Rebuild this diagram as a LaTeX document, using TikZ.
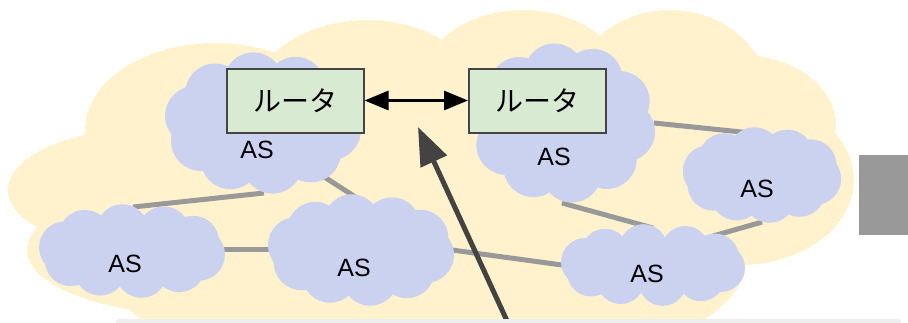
\documentclass[tikz,border=0pt]{standalone}
\usepackage{fontspec}
\setmainfont{Liberation Sans}
\newfontfamily\jpfont{Noto Sans CJK JP}
\usetikzlibrary{arrows.meta}

\definecolor{netyellow}{HTML}{FFF2CC}
\definecolor{asblue}{HTML}{CBD2F0}
\definecolor{routergreen}{HTML}{D9EAD3}
\definecolor{linkgray}{HTML}{999999}
\definecolor{darkgray}{HTML}{434343}
\definecolor{boxedge}{HTML}{444444}
\definecolor{stripgray}{HTML}{EEEEEE}

% scalloped cloud: centre x, centre y, half width, half height, bump radius
\newcommand\ascloud[5]{%
  \pgfmathsetmacro\cra{#3-#5}%
  \pgfmathsetmacro\crb{#4-#5}%
  \fill[asblue] (#1,#2) ellipse [x radius=\cra, y radius=\crb];
  \foreach \t in {10,46,...,334}{%
    \fill[asblue] ({#1+\cra*cos(\t)},{#2+\crb*sin(\t)}) circle [radius=#5];
  }%
}

\tikzset{
  router/.style={draw=boxedge, line width=2pt, fill=routergreen,
    minimum width=137pt, minimum height=64pt, inner sep=0pt,
    font=\jpfont\fontsize{28}{30}\selectfont},
  aslabel/.style={font=\fontsize{25}{28}\selectfont, inner sep=0pt},
  link/.style={draw=linkgray, line width=5pt},
}

\begin{document}
\begin{tikzpicture}[x=1pt,y=-1pt]
\useasboundingbox (0,0) rectangle (908,322);

% the internet as a whole
\begin{scope}
  \clip (0,0) rectangle (908,322);
  \fill[netyellow] (215,130) ellipse [x radius=130, y radius=87];
  \fill[netyellow] (367,110) ellipse [x radius=120, y radius=90];
  \fill[netyellow] (523,82) ellipse [x radius=100, y radius=72];
  \fill[netyellow] (670,100) ellipse [x radius=100, y radius=90];
  \fill[netyellow] (740,125) ellipse [x radius=96, y radius=70];
  \fill[netyellow] (740,180) ellipse [x radius=114, y radius=85];
  \fill[netyellow] (150,190) ellipse [x radius=142, y radius=62];
  \fill[netyellow] (200,250) ellipse [x radius=173, y radius=65];
  \fill[netyellow] (460,170) ellipse [x radius=330, y radius=120];
  \fill[netyellow] (420,290) ellipse [x radius=300, y radius=80];
  \fill[netyellow] (620,260) ellipse [x radius=125, y radius=80];
\end{scope}

% link end points
\coordinate (l1a) at (133,207); \coordinate (l1b) at (264,193);
\coordinate (l2a) at (312,169); \coordinate (l2b) at (360,200);
\coordinate (l3a) at (224,249); \coordinate (l3b) at (269,249);
\coordinate (l4a) at (452,250); \coordinate (l4b) at (562,265);
\coordinate (l5a) at (562,203); \coordinate (l5b) at (653,228);
\coordinate (l6a) at (713,236); \coordinate (l6b) at (762,222);
\coordinate (l7a) at (654,123); \coordinate (l7b) at (761,134);

% links between autonomous systems
\draw[link] (l1a) -- (l1b);
\draw[link] (l2a) -- (l2b);
\draw[link] (l3a) -- (l3b);
\draw[link] (l4a) -- (l4b);
\draw[link] (l5a) -- (l5b);
\draw[link] (l6a) -- (l6b);
\draw[link] (l7a) -- (l7b);

% autonomous systems
\ascloud{263}{123}{99}{71}{30}
\ascloud{563}{123}{93}{80}{30}
\ascloud{762}{175}{80}{48}{26}
\ascloud{653}{265}{93}{41}{24}
\ascloud{132}{251}{94}{47}{26}
\ascloud{361}{250}{94}{56}{28}

\node[aslabel] (asA) at (257,150) {AS};
\node[aslabel] (asB) at (554,157) {AS};
\node[aslabel] (asC) at (757,189) {AS};
\node[aslabel] (asD) at (647,274) {AS};
\node[aslabel] (asE) at (125,264) {AS};
\node[aslabel] (asF) at (354,268) {AS};

% border routers
\node[router] (r1) at (295,100.5) {ルータ};
\node[router] (r2) at (537.5,100.5) {ルータ};
\draw[line width=3pt, {Triangle[length=24pt,width=19pt]}-{Triangle[length=24pt,width=19pt]}] (r1.east) -- (r2.west);

% pointer
\coordinate (ptrstart) at (508,323);
\coordinate (ptrtip) at (418,127);
\draw[darkgray, line width=5pt, -{Triangle[length=38pt,width=28pt]}] (ptrstart) -- (ptrtip);

% side panel and bottom strip
\fill[linkgray] (859,155) rectangle (908,235);
\fill[stripgray, rounded corners=3pt] (116,319) rectangle (901,326);
\end{tikzpicture}
\end{document}
